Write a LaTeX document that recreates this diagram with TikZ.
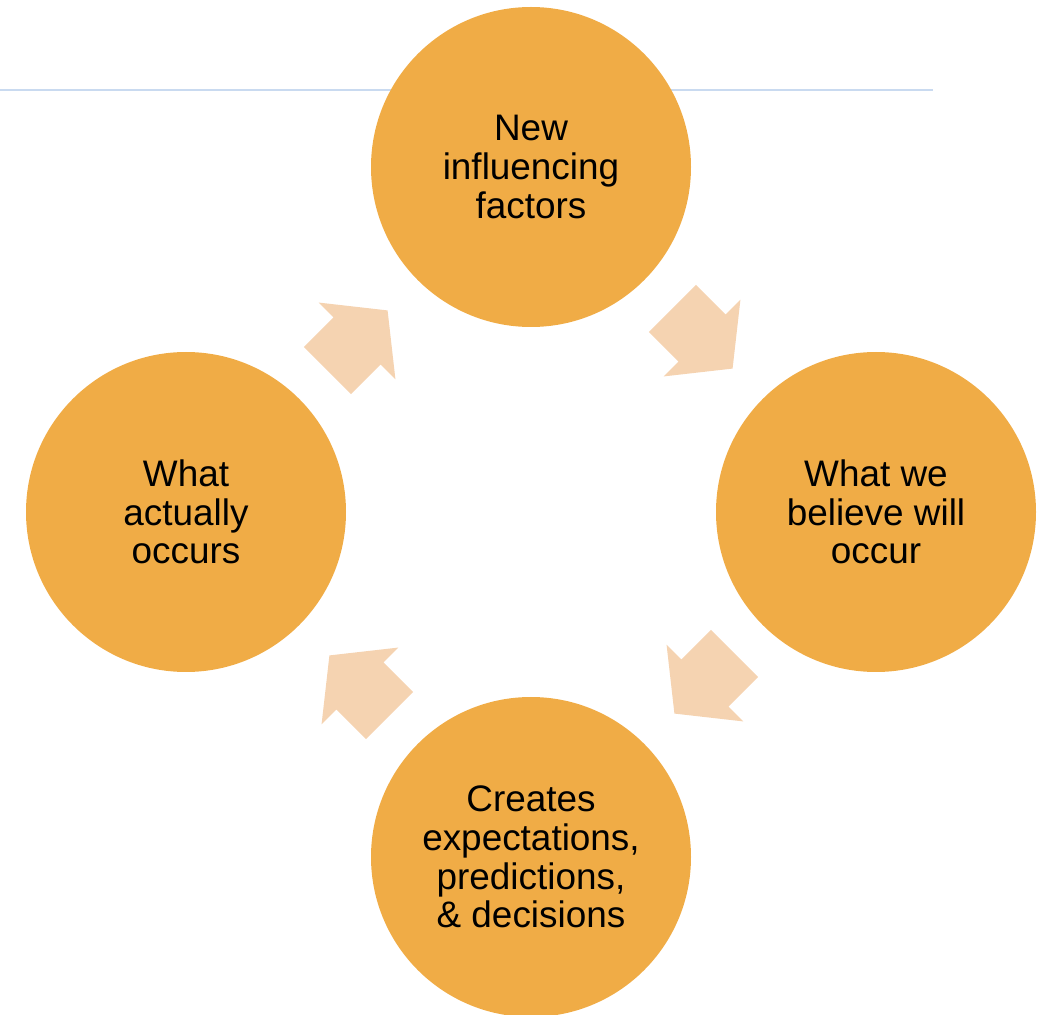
\documentclass[tikz,border=0pt]{standalone}
\usepackage{fontspec}
\setmainfont{Liberation Sans}
\usepackage{xcolor}
\usetikzlibrary{positioning, calc, shapes.arrows}

\definecolor{cycleorange}{HTML}{F0AC46}
\definecolor{cyclepeach}{HTML}{F5D3B1}
\definecolor{ruleblue}{HTML}{C9DAF0}

\begin{document}
\begin{tikzpicture}[
    node distance=6.9cm and 6.9cm,
    on grid,
    cyclebox/.style={
        circle,
        fill=cycleorange,
        minimum size=6.4cm,
        inner sep=0pt,
        align=center,
        font=\fontsize{21}{22}\selectfont
    },
    flowarrow/.style={
        single arrow,
        fill=cyclepeach,
        minimum height=1.7cm,
        inner xsep=0pt,
        inner ysep=0.66cm,
        single arrow head extend=0.42cm,
        single arrow tip angle=103
    }
]
    \useasboundingbox (0,0) rectangle (20.86,-20.3);

    % Header rule, runs behind the top circle
    \draw[ruleblue, line width=1.2pt] (0,-1.8) -- (18.66,-1.8);

    % Cycle steps
    \node[cyclebox] (factors) at (10.62,-3.34) {New\\influencing\\factors};
    \node[cyclebox, below right=of factors] (believe) {What we\\believe will\\occur};
    \node[cyclebox, below left=of factors] (actual) {What\\actually\\occurs};
    \node[cyclebox, below right=of actual] (decisions) {Creates\\expectations,\\predictions,\\\& decisions};

    % Block arrows between the steps
    \node[flowarrow, rotate=-45] (a1) at ($(factors)!0.47!(believe)$) {};
    \node[flowarrow, rotate=-135] (a2) at ($(believe)!0.47!(decisions)$) {};
    \node[flowarrow, rotate=135] (a3) at ($(decisions)!0.47!(actual)$) {};
    \node[flowarrow, rotate=45] (a4) at ($(actual)!0.47!(factors)$) {};
\end{tikzpicture}
\end{document}
